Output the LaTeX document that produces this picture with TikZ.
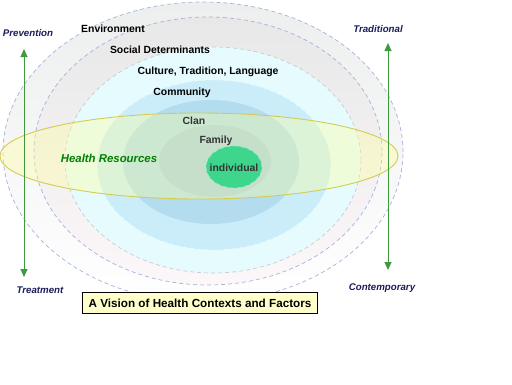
\documentclass[tikz,border=0pt]{standalone}
\usepackage{fontspec}
\setmainfont{Liberation Sans}
\usetikzlibrary{arrows.meta}
\definecolor{ringline}{HTML}{A9B1DC}
\definecolor{greyline}{HTML}{C8CCD0}
\definecolor{envtop}{HTML}{EDEEEE}
\definecolor{soctop}{HTML}{E8E8E8}
\definecolor{socbot}{HTML}{FCF7F9}
\definecolor{culturefill}{HTML}{E6FBFE}
\definecolor{communityfill}{HTML}{CBEDF9}
\definecolor{clanfill}{HTML}{B3DCEF}
\definecolor{familyfill}{HTML}{A6CFE6}
\definecolor{indivfill}{HTML}{3DD68C}
\definecolor{resline}{HTML}{D4CC50}
\definecolor{resfill}{HTML}{FFFF99}
\definecolor{arrowgreen}{HTML}{3C9C3C}
\definecolor{navy}{HTML}{1C1C5C}
\definecolor{titlefill}{HTML}{FFFFCC}

\begin{document}
\begin{tikzpicture}[x=1pt,y=-1pt,
  lbl/.style={font=\bfseries\fontsize{10.4}{12}\selectfont},
  side/.style={font=\bfseries\itshape\fontsize{9.7}{11}\selectfont,text=navy},
  ring/.style={draw=ringline,dash pattern=on 4pt off 3pt,line width=0.7pt},
  axis/.style={draw=arrowgreen,line width=1pt,{Triangle[length=8pt,width=7pt]}-{Triangle[length=8pt,width=7pt]}}]
\useasboundingbox[fill=white] (0,0) rectangle (512,384);
% rings
\draw[ring,top color=envtop,bottom color=white] (203,152) ellipse [x radius=200pt,y radius=150pt];
\draw[ring,top color=soctop,bottom color=socbot] (208,151) ellipse [x radius=174pt,y radius=134pt];
\draw[ring,draw=greyline,fill=culturefill] (213,160) ellipse [x radius=148pt,y radius=113pt];
\draw[ring,draw=culturefill,fill=communityfill] (214,165) ellipse [x radius=117pt,y radius=85pt];
\fill[clanfill] (211,162) ellipse [x radius=88pt,y radius=62pt];
\fill[familyfill] (215,161) ellipse [x radius=56pt,y radius=36pt];
% health resources
\draw[resline,line width=0.9pt,fill=resfill,fill opacity=0.35] (199,156) ellipse [x radius=199pt,y radius=43pt];
\draw[ring,draw=indivfill!50!white,fill=indivfill] (234,167) ellipse [x radius=28pt,y radius=21pt];
% axes
\coordinate (prevTop) at (24,49);
\coordinate (prevBot) at (24,277);
\coordinate (tradTop) at (388,43);
\coordinate (tradBot) at (388,270);
\draw[axis] (prevTop) -- (prevBot);
\draw[axis] (tradTop) -- (tradBot);
% labels
\node[lbl] (env) at (113,29) {Environment};
\node[lbl] (social) at (160,50) {Social Determinants};
\node[lbl] (culture) at (208,72) {Culture, Tradition, Language};
\node[lbl] (community) at (182,93) {Community};
\node[lbl,text=black!80] (clan) at (194,121) {Clan};
\node[lbl,text=black!80] (family) at (216,141) {Family};
\node[lbl,text=black!80] (individual) at (234,168) {individual};
\node[font=\bfseries\itshape\fontsize{11.4}{13}\selectfont,text=green!50!black] (health) at (109,158) {Health Resources};
\node[side] (prevention) at (28,33) {Prevention};
\node[side] (treatment) at (40,290) {Treatment};
\node[side] (traditional) at (378,29) {Traditional};
\node[side] (contemporary) at (382,288) {Contemporary};
\node[draw=black,line width=1.2pt,fill=titlefill,minimum width=235pt,minimum height=21pt,
  font=\bfseries\fontsize{11.7}{13}\selectfont] (title) at (200,303) {A Vision of Health Contexts and Factors};
\end{tikzpicture}
\end{document}
